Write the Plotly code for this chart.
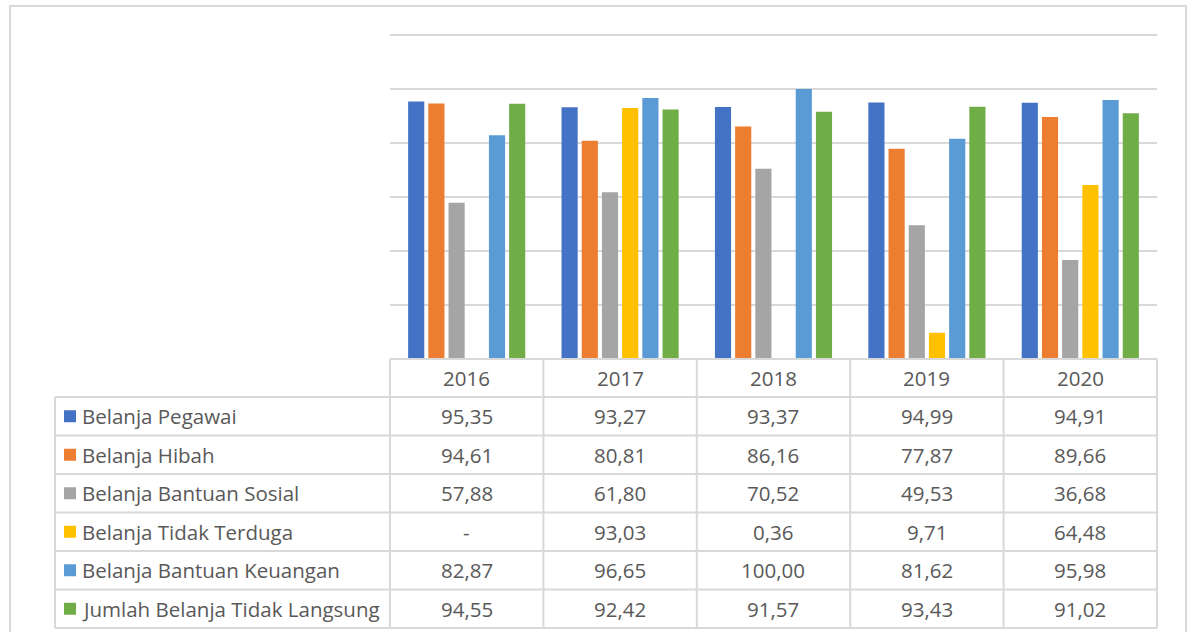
import plotly.graph_objects as go

# Realisasi belanja tidak langsung per tahun (%)
years = ["2016", "2017", "2018", "2019", "2020"]
series_names = [
    "Belanja Pegawai",
    "Belanja Hibah",
    "Belanja Bantuan Sosial",
    "Belanja Tidak Terduga",
    "Belanja Bantuan Keuangan",
    "Jumlah Belanja Tidak Langsung",
]
pegawai = [95.35, 93.27, 93.37, 94.99, 94.91]
hibah = [94.61, 80.81, 86.16, 77.87, 89.66]
bantuan_sosial = [57.88, 61.80, 70.52, 49.53, 36.68]
tidak_terduga = [None, 93.03, 0.36, 9.71, 64.48]
bantuan_keuangan = [82.87, 96.65, 100.00, 81.62, 95.98]
jumlah = [94.55, 92.42, 91.57, 93.43, 91.02]
series_values = [pegawai, hibah, bantuan_sosial, tidak_terduga, bantuan_keuangan, jumlah]
colors = ["#4472C4", "#ED7D31", "#A5A5A5", "#FFC000", "#5B9BD5", "#70AD47"]

W, H = 1189, 632
GRID = "#d9d9d9"
TEXT = "#595959"
FONT = "Open Sans"
FS = 20.5

# pixel layout of the plot area and the data table underneath
plot_left, plot_right = 390, 1157
plot_top, plot_bottom = 35, 359
label_left = 55
header_bottom = 397
row_h = (628 - header_bottom) / len(series_names)


def px(x):
    return x / W


def py(y):
    return 1 - y / H


fig = go.Figure()
for name, vals, col in zip(series_names, series_values, colors):
    fig.add_trace(go.Bar(
        x=years, y=vals, name=name, marker=dict(color=col, line=dict(width=0)),
        showlegend=False,
    ))

shapes = []
annotations = []

# outer chart border
shapes.append(dict(type="rect", xref="paper", yref="paper",
                   x0=px(10), x1=px(1186), y0=py(6), y1=-0.05,
                   line=dict(color=GRID, width=2)))

# table grid
col_w = (plot_right - plot_left) / len(years)
line = dict(color=GRID, width=2)
shapes.append(dict(type="line", xref="paper", yref="paper",
                   x0=px(plot_left), x1=px(plot_right), y0=py(plot_bottom), y1=py(plot_bottom), line=line))
for r in range(len(series_names) + 1):
    yy = header_bottom + r * row_h
    shapes.append(dict(type="line", xref="paper", yref="paper",
                       x0=px(label_left), x1=px(plot_right), y0=py(yy), y1=py(yy), line=line))
shapes.append(dict(type="line", xref="paper", yref="paper",
                   x0=px(label_left), x1=px(label_left), y0=py(header_bottom), y1=py(628), line=line))
for c in range(len(years) + 1):
    xx = plot_left + c * col_w
    shapes.append(dict(type="line", xref="paper", yref="paper",
                       x0=px(xx), x1=px(xx), y0=py(plot_bottom), y1=py(628), line=line))

# header row: years
for c, yr in enumerate(years):
    annotations.append(dict(xref="paper", yref="paper",
                            x=px(plot_left + (c + 0.5) * col_w), y=py((plot_bottom + header_bottom) / 2),
                            text=yr, showarrow=False, xanchor="center", yanchor="middle",
                            font=dict(family=FONT, size=FS, color=TEXT)))

# series rows: legend key, name, values
for r, (name, vals, col) in enumerate(zip(series_names, series_values, colors)):
    yc = header_bottom + (r + 0.5) * row_h
    shapes.append(dict(type="rect", xref="paper", yref="paper",
                       x0=px(64), x1=px(76), y0=py(yc - 6), y1=py(yc + 6),
                       fillcolor=col, line=dict(width=0)))
    annotations.append(dict(xref="paper", yref="paper", x=px(80), y=py(yc),
                            text=name, showarrow=False, xanchor="left", yanchor="middle",
                            font=dict(family=FONT, size=FS, color=TEXT)))
    for c, v in enumerate(vals):
        txt = "-" if v is None else f"{v:.2f}".replace(".", ",")
        annotations.append(dict(xref="paper", yref="paper",
                                x=px(plot_left + (c + 0.5) * col_w), y=py(yc),
                                text=txt, showarrow=False, xanchor="center", yanchor="middle",
                                font=dict(family=FONT, size=FS, color=TEXT)))

fig.update_layout(
    width=W, height=H,
    margin=dict(l=0, r=0, t=0, b=0),
    paper_bgcolor="white", plot_bgcolor="white",
    barmode="group", bargap=0.21, bargroupgap=0.2,
    xaxis=dict(domain=[px(plot_left), px(plot_right)], showticklabels=False,
               showgrid=False, zeroline=False, showline=False, ticks=""),
    yaxis=dict(domain=[py(plot_bottom), py(plot_top - 1)], range=[0, 120.4],
               tick0=0, dtick=20, showticklabels=False, showgrid=True,
               gridcolor=GRID, gridwidth=2, zeroline=False, showline=False, ticks=""),
    shapes=shapes, annotations=annotations,
)

fig.write_html("out.html")
